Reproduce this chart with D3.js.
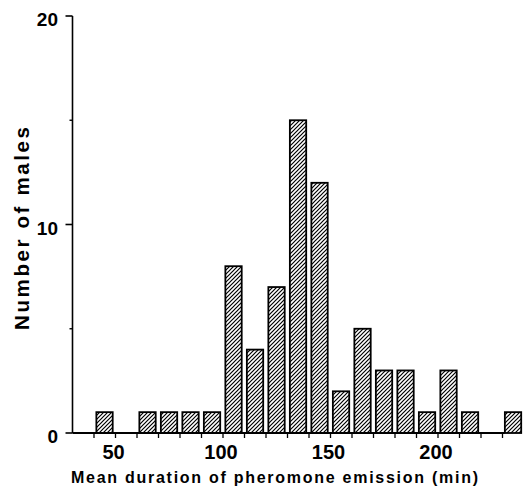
<!DOCTYPE html>
<html>
<head>
<meta charset="utf-8">
<script src="https://cdn.jsdelivr.net/npm/d3@7"></script>
<style>
  body { margin: 0; background: #fff; }
  text { font-family: "Liberation Sans", Arial, Helvetica, sans-serif; font-weight: bold; fill: #000; }
</style>
</head>
<body>
<div id="chart"></div>
<script>
// histogram bins (lower edge, minutes) and number of males in each
var binStarts = [40, 50, 60, 70, 80, 90, 100, 110, 120, 130, 140, 150, 160, 170, 180, 190, 200, 210, 220, 230];
var counts    = [1, 0, 1, 1, 1, 1, 8, 4, 7, 15, 12, 2, 5, 3, 3, 1, 3, 1, 0, 1];

var xTickLabels = [50, 100, 150, 200];
var xTicks = d3.range(40, 240, 10);
var yTickLabels = [0, 10, 20];
var yMinorTicks = [5, 15];

var width = 524, height = 493;

var x = d3.scaleLinear().domain([30, 240]).range([72.5, 524]);
var y = d3.scaleLinear().domain([0, 20]).range([433, 16]);

var svg = d3.select('#chart').append('svg')
  .attr('width', width)
  .attr('height', height);

// hatch fill for the bars
svg.append('defs').append('pattern')
  .attr('id', 'hatch')
  .attr('patternUnits', 'userSpaceOnUse')
  .attr('width', 4)
  .attr('height', 4)
  .append('path')
  .attr('d', 'M-1,1 l2,-2 M0,4 l4,-4 M3,5 l2,-2')
  .style('stroke', '#000')
  .style('stroke-width', 1.2);

var bars = binStarts.map(function(b, i) { return {x0: b, n: counts[i]}; })
  .filter(function(d) { return d.n > 0; });

svg.selectAll('rect.bar')
  .data(bars)
  .enter().append('rect')
  .attr('class', 'bar')
  .attr('x', function(d) { return x(d.x0 + 1.1); })
  .attr('y', function(d) { return y(d.n); })
  .attr('width', function(d) { return x(d.x0 + 8.7) - x(d.x0 + 1.1); })
  .attr('height', function(d) { return y(0) - y(d.n); })
  .style('fill', 'url(#hatch)')
  .style('stroke', '#000')
  .style('stroke-width', 1.8);

// x axis: baseline and small ticks
svg.append('line')
  .attr('x1', x(30)).attr('x2', x(231))
  .attr('y1', y(0)).attr('y2', y(0))
  .style('stroke', '#000').style('stroke-width', 2);

svg.selectAll('line.xtick')
  .data(xTicks)
  .enter().append('line')
  .attr('class', 'xtick')
  .attr('x1', function(d) { return x(d); })
  .attr('x2', function(d) { return x(d); })
  .attr('y1', y(0))
  .attr('y2', y(0) + 5)
  .style('stroke', '#000').style('stroke-width', 1.3);

svg.selectAll('text.xlab')
  .data(xTickLabels)
  .enter().append('text')
  .attr('class', 'xlab')
  .attr('x', function(d) { return x(d) - 2; })
  .attr('y', 459)
  .attr('text-anchor', 'middle')
  .style('font-size', '20px')
  .text(function(d) { return d; });

// y axis
svg.append('line')
  .attr('x1', x(30)).attr('x2', x(30))
  .attr('y1', y(20)).attr('y2', y(0))
  .style('stroke', '#000').style('stroke-width', 1.6);

svg.selectAll('line.ytick')
  .data(yTickLabels)
  .enter().append('line')
  .attr('class', 'ytick')
  .attr('x1', x(30) - 7)
  .attr('x2', x(30))
  .attr('y1', function(d) { return y(d); })
  .attr('y2', function(d) { return y(d); })
  .style('stroke', '#000').style('stroke-width', 1.6);

svg.selectAll('line.yminor')
  .data(yMinorTicks)
  .enter().append('line')
  .attr('class', 'yminor')
  .attr('x1', x(30) - 3)
  .attr('x2', x(30))
  .attr('y1', function(d) { return y(d); })
  .attr('y2', function(d) { return y(d); })
  .style('stroke', '#000').style('stroke-width', 1.4);

svg.selectAll('text.ylab')
  .data(yTickLabels)
  .enter().append('text')
  .attr('class', 'ylab')
  .attr('x', 58)
  .attr('y', function(d) { return y(d) + 10; })
  .attr('text-anchor', 'end')
  .style('font-size', '19px')
  .text(function(d) { return d; });

// axis titles
svg.append('text')
  .attr('x', 71)
  .attr('y', 483)
  .attr('textLength', 407)
  .attr('lengthAdjust', 'spacing')
  .style('font-size', '16px')
  .text('Mean duration of pheromone emission (min)');

svg.append('text')
  .attr('transform', 'translate(29,330) rotate(-90)')
  .attr('textLength', 203)
  .attr('lengthAdjust', 'spacing')
  .style('font-size', '20.5px')
  .text('Number of males');
</script>
</body>
</html>
